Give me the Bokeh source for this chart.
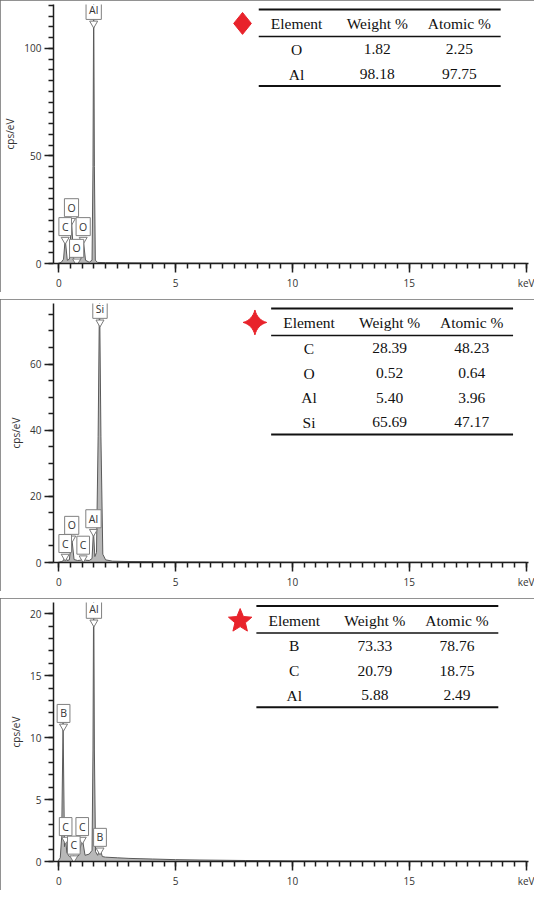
import math
from bokeh.plotting import figure
from bokeh.models import ColumnDataSource, FixedTicker, Label
from bokeh.layouts import column
from bokeh.core.properties import value
from bokeh.embed import file_html
from bokeh.resources import INLINE

# ---------------- data ----------------
# Panel 1 spectrum (keV, cps/eV)
energy_1 = [-0.05, 0.10, 0.20, 0.27, 0.36, 0.45, 0.54, 0.63, 0.70, 0.76, 0.84, 0.94, 1.04, 1.14,
            1.30, 1.42, 1.46, 1.49, 1.52, 1.56, 1.66, 2.0, 3.0, 5.0, 8.0, 12.0, 20.0]
cps_1 = [0.0, 0.5, 2.0, 11.5, 1.5, 2.0, 20.5, 2.5, 0.8, 1.2, 0.8, 2.0, 11.5, 1.5,
         0.6, 1.5, 45, 128, 45, 1.5, 0.5, 0.4, 0.3, 0.2, 0.15, 0.1, 0.05]
peak_names_1 = ["C", "O", "O", "O", "Al"]
peak_keV_1 = [0.27, 0.54, 0.76, 1.04, 1.49]
peak_level_1 = [11.1, 19.9, 1.0, 11.1, 111.6]
y_ticks_1 = [0, 50, 100]

# Panel 2 spectrum
energy_2 = [-0.05, 0.12, 0.20, 0.27, 0.35, 0.45, 0.55, 0.65, 0.80, 0.94, 1.04, 1.14, 1.30, 1.42,
            1.48, 1.54, 1.61, 1.68, 1.74, 1.80, 1.88, 2.0, 2.3, 3.0, 5.0, 10.0, 20.0]
cps_2 = [0.0, 0.3, 0.6, 2.0, 0.6, 0.8, 7.6, 0.9, 0.6, 0.7, 1.5, 0.7, 0.6, 1.2,
         9.6, 1.8, 3.0, 38, 82, 38, 2.5, 0.8, 0.4, 0.3, 0.2, 0.1, 0.05]
peak_names_2 = ["C", "O", "C", "Al", "Si"]
peak_keV_2 = [0.27, 0.55, 1.04, 1.48, 1.76]
peak_level_2 = [1.8, 7.3, 1.3, 9.3, 72.6]
y_ticks_2 = [0, 20, 40, 60]

# Panel 3 spectrum
energy_3 = [-0.05, 0.06, 0.12, 0.18, 0.24, 0.29, 0.34, 0.45, 0.56, 0.64, 0.72, 0.86, 1.0, 1.12,
            1.30, 1.42, 1.46, 1.49, 1.52, 1.57, 1.66, 1.76, 1.86, 2.0, 2.5, 3.0, 4.0, 5.0, 6.0,
            8.0, 10.0, 14.0, 20.0]
cps_3 = [0.0, 0.3, 2.0, 11.2, 1.2, 1.9, 0.7, 0.4, 0.35, 0.45, 0.35, 0.5, 1.9, 0.5,
         0.6, 0.9, 9.0, 23.0, 9.0, 0.8, 0.5, 1.0, 0.4, 0.35, 0.3, 0.25, 0.2, 0.15, 0.12,
         0.08, 0.05, 0.03, 0.02]
peak_names_3 = ["B", "C", "C", "C", "Al", "B"]
peak_keV_3 = [0.20, 0.29, 0.64, 1.00, 1.50, 1.76]
peak_level_3 = [10.9, 1.77, 0.27, 1.77, 19.3, 0.9]
y_ticks_3 = [0, 5, 10, 15, 20]

x_ticks = [0, 5, 10, 15, 20]
x_unit_label = "keV"

# Composition tables
table_header = ["Element", "Weight %", "Atomic %"]
table_1_element = ["O", "Al"]
table_1_weight = ["1.82", "98.18"]
table_1_atomic = ["2.25", "97.75"]
table_2_element = ["C", "O", "Al", "Si"]
table_2_weight = ["28.39", "0.52", "5.40", "65.69"]
table_2_atomic = ["48.23", "0.64", "3.96", "47.17"]
table_3_element = ["B", "C", "Al"]
table_3_weight = ["73.33", "20.79", "5.88"]
table_3_atomic = ["78.76", "18.75", "2.49"]

# ---------------- layout ----------------
FIG_W, FIG_H = 534, 292
FRAME_L, FRAME_T = 45, 4
FRAME_R, FRAME_B = 6, 28
FRAME_W = FIG_W - FRAME_L - FRAME_R
FRAME_H = FIG_H - FRAME_T - FRAME_B
X0, X1 = -0.23, 20.1
RED = "#e8232b"
SANS = "Open Sans"
SERIF = "Liberation Serif"
AX = "#1e1e1e"


def px2data(px, py, y_end):
    x = X0 + (px - FRAME_L) / FRAME_W * (X1 - X0)
    y = y_end - (py - FRAME_T) / FRAME_H * y_end
    return x, y


def diamond_shape():
    return [(0, -11), (9, 0), (0, 11), (-9, 0)]


def star4_shape():
    tips = [(12, 0), (0, 12.5), (-12, 0), (0, -12.5)]
    pts = []
    for i in range(4):
        a = tips[i]
        b = tips[(i + 1) % 4]
        c = (2.6 * (1 if (a[0] + b[0]) > 0 else -1), 2.6 * (1 if (a[1] + b[1]) > 0 else -1))
        for k in range(8):
            t = k / 8
            pts.append(((1 - t) ** 2 * a[0] + 2 * (1 - t) * t * c[0] + t * t * b[0],
                        (1 - t) ** 2 * a[1] + 2 * (1 - t) * t * c[1] + t * t * b[1]))
    return pts


def star5_shape():
    pts = []
    for k in range(10):
        ang = -math.pi / 2 + k * math.pi / 5
        r = 12.5 if k % 2 == 0 else 5.6
        pts.append((r * math.cos(ang), r * math.sin(ang) + 1))
    return pts


def make_panel(energy, cps, y_end, y_major, y_minor_step, names, keVs, levels,
               elems, weights, atomics, tbl_left, tbl_top, shape):
    p = figure(width=FIG_W, height=FIG_H, x_range=(X0, X1), y_range=(0, y_end),
               output_backend="svg", toolbar_location=None,
               min_border_left=FRAME_L, min_border_right=FRAME_R,
               min_border_top=FRAME_T, min_border_bottom=FRAME_B,
               styles={"outline": "1px solid #6e6e6e", "outline-offset": "-1px"})
    p.grid.visible = False
    p.outline_line_color = None
    p.background_fill_color = "white"

    p.xaxis.ticker = FixedTicker(ticks=x_ticks, minor_ticks=[i * 0.5 for i in range(41)])
    p.xaxis.major_label_overrides = {x_ticks[-1]: x_unit_label}
    n_minor = int(y_end // y_minor_step) + 1
    p.yaxis.ticker = FixedTicker(ticks=y_major, minor_ticks=[i * y_minor_step for i in range(n_minor)])
    p.yaxis.axis_label = "cps/eV"
    p.yaxis.axis_label_text_font = SANS
    p.yaxis.axis_label_text_font_size = "10px"
    p.yaxis.axis_label_text_font_style = "normal"
    p.yaxis.axis_label_text_color = "#333333"
    p.yaxis.axis_label_standoff = 4
    for ax in (p.xaxis[0], p.yaxis[0]):
        ax.axis_line_color = AX
        ax.axis_line_width = 1.5
        ax.major_tick_line_color = AX
        ax.major_tick_line_width = 1.5
        ax.minor_tick_line_color = AX
        ax.minor_tick_line_width = 1.5
        ax.major_tick_in = 0
        ax.major_tick_out = 9
        ax.minor_tick_in = 0
        ax.minor_tick_out = 5
        ax.major_label_text_font = SANS
        ax.major_label_text_font_size = "10px"
        ax.major_label_text_color = "#333333"
        ax.major_label_standoff = 3

    # spectrum
    src = ColumnDataSource(dict(x=energy, y=cps))
    p.varea(x="x", y1=0, y2="y", source=src, fill_color="#b8b8b8")
    p.line(x="x", y="y", source=src, line_color="#5a5a5a", line_width=1)

    # peak labels
    psrc = ColumnDataSource(dict(x=keVs, y=levels))
    p.scatter(x="x", y="y", source=psrc, marker="inverted_triangle", size=8,
              fill_color="white", line_color="#7a7a7a", line_width=1)
    for n, e, lv in zip(names, keVs, levels):
        p.add_layout(Label(x=e, y=lv, text=n, text_align="center", text_baseline="bottom",
                           y_offset=4, text_font=SANS, text_font_size="10.5px",
                           text_color="#333333", background_fill_color="white",
                           border_line_color="#808080",
                           padding=dict(left=3, right=3, top=2, bottom=2)))

    # table
    L, T = tbl_left, tbl_top
    col_off = [38.5, 120.5, 204]
    nrow = len(elems)
    last_row = T + 40 + 24.8 * (nrow - 1)
    line_rows = [(T, 2.0), (T + 27, 1.5), (last_row + 12, 2.0)]
    for ly, lw in line_rows:
        xa, ya = px2data(L, ly, y_end)
        xb, _ = px2data(L + 246, ly, y_end)
        p.segment(x0=[xa], y0=[ya], x1=[xb], y1=[ya], line_color="#111111", line_width=lw)
    tx, ty, tt = [], [], []
    for j, h in enumerate(table_header):
        x, y = px2data(L + col_off[j], T + 14.5, y_end)
        tx.append(x); ty.append(y); tt.append(h)
    for i in range(nrow):
        for j, v in enumerate((elems[i], weights[i], atomics[i])):
            x, y = px2data(L + col_off[j], T + 40 + 24.8 * i, y_end)
            tx.append(x); ty.append(y); tt.append(v)
    p.text(x=tx, y=ty, text=tt, text_font=value(SERIF), text_font_size="15.5px",
           text_color="#111111", text_align="center", text_baseline="middle")

    # red marker
    cx, cy = L - 16.5, T + 14
    xs, ys = [], []
    for dx, dy in shape:
        x, y = px2data(cx + dx, cy + dy, y_end)
        xs.append(x); ys.append(y)
    p.patch(xs, ys, fill_color=RED, line_color=RED, line_width=1)
    return p


p1 = make_panel(energy_1, cps_1, 120.4, y_ticks_1, 5, peak_names_1, peak_keV_1, peak_level_1,
                table_1_element, table_1_weight, table_1_atomic, 253.7, 9.0, diamond_shape())
p2 = make_panel(energy_2, cps_2, 78.3, y_ticks_2, 5, peak_names_2, peak_keV_2, peak_level_2,
                table_2_element, table_2_weight, table_2_atomic, 266.3, 9.0, star4_shape())
p3 = make_panel(energy_3, cps_3, 20.9, y_ticks_3, 1, peak_names_3, peak_keV_3, peak_level_3,
                table_3_element, table_3_weight, table_3_atomic, 251.3, 7.6, star5_shape())

layout = column(p1, p2, p3, spacing=7)
open("out.html", "w").write(file_html(layout, INLINE))
